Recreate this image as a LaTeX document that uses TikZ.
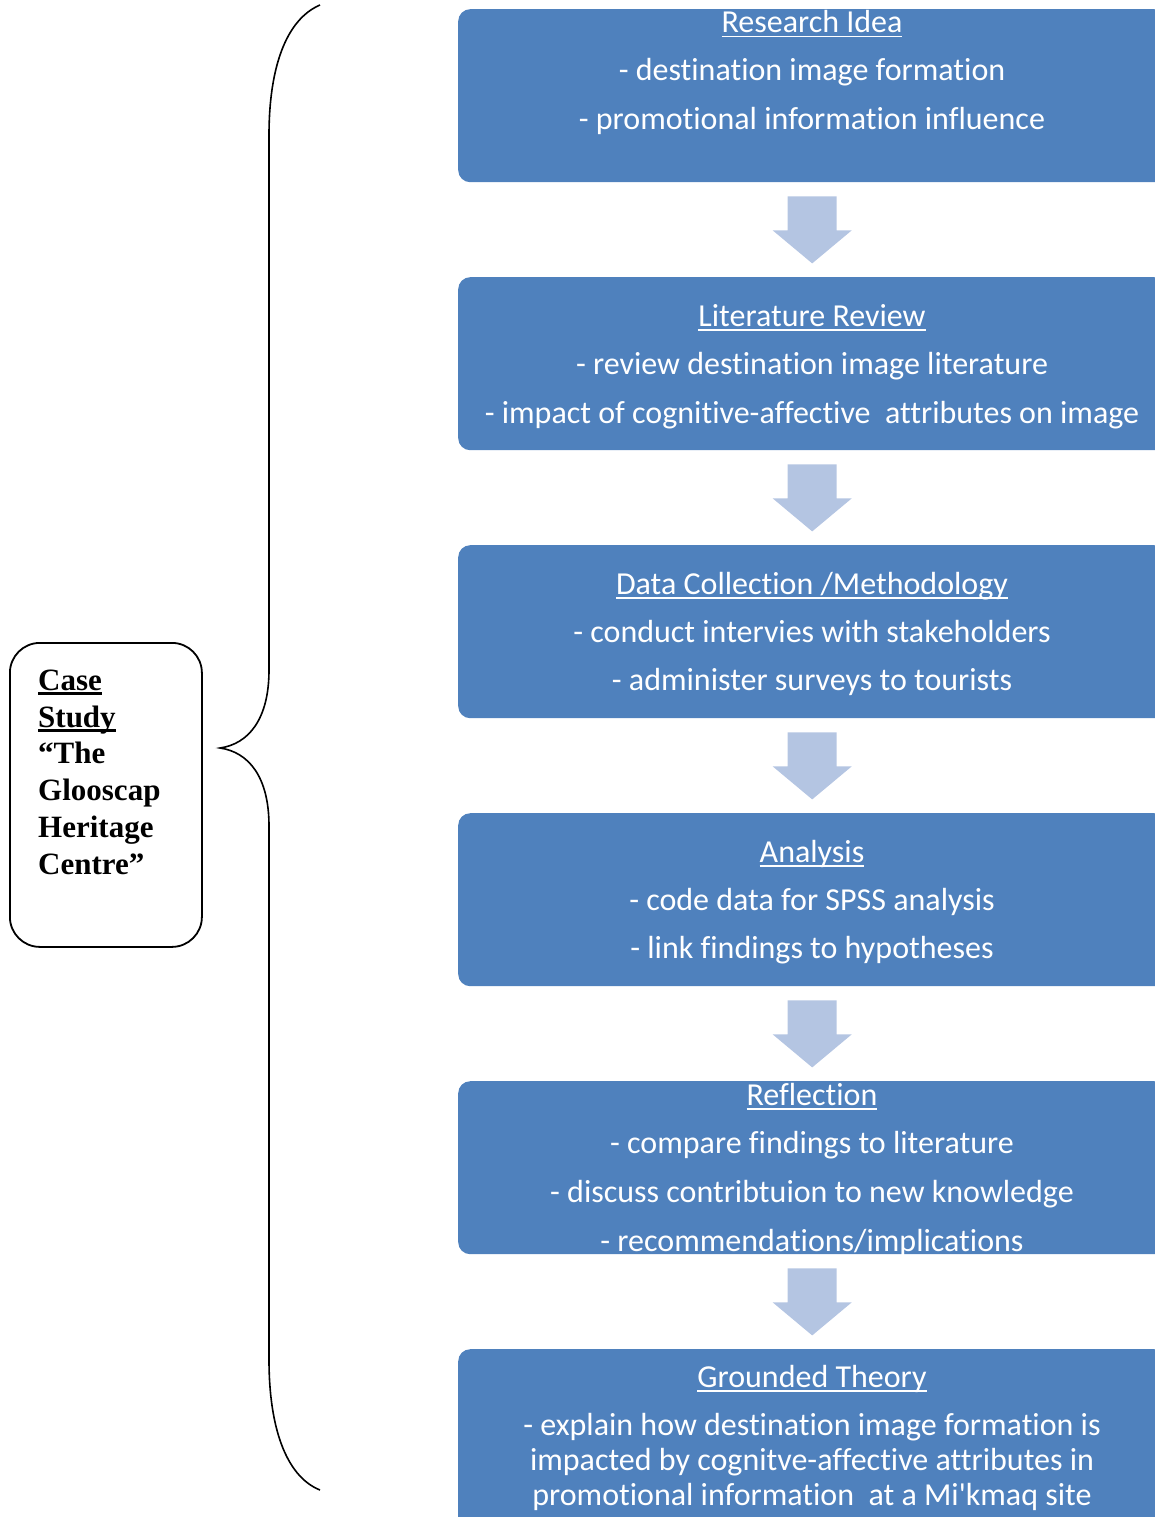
\documentclass[tikz,border=0pt]{standalone}
\usepackage{fontspec}
\setmainfont[Ligatures={TeX,NoCommon}]{Carlito}
\newfontfamily\timesf[Ligatures=TeX]{Liberation Serif}
\definecolor{boxblue}{RGB}{79,129,189}
\definecolor{arrowblue}{RGB}{180,197,226}
\newlength\ulw
\newcommand\myul[3]{\settowidth\ulw{#3}\rlap{\rule[-#1]{\ulw}{#2}}#3}
\begin{document}
\begin{tikzpicture}[x=1pt,y=-1pt,
  box/.style={fill=boxblue, rounded corners=12pt, minimum width=708pt, minimum height=173pt, inner sep=0pt, draw=none, anchor=north west},
  txt/.style={anchor=base, text=white, font=\fontsize{32}{38}\selectfont, inner sep=0pt},
  cstxt/.style={anchor=base west, text=black, font=\timesf\bfseries\fontsize{31}{37}\selectfont, inner sep=0pt},
  blockarrow/.style={fill=arrowblue, draw=none}]
\useasboundingbox (0,0) rectangle (1155,1517);
\clip (0,0) rectangle (1155,1517);

% boxes
\node[box] (b1) at (458,9) {};
\node[box] (b2) at (458,277) {};
\node[box] (b3) at (458,545) {};
\node[box] (b4) at (458,813) {};
\node[box] (b5) at (458,1081) {};
\node[box, minimum height=190pt] (b6) at (458,1349) {};

% block arrows between boxes
\foreach \s in {b1,b2,b3,b4,b5}{
  \begin{scope}[shift={(\s.south)}]
    \fill[blockarrow] (-24.5,14) -- (24.5,14) -- (24.5,48) -- (39.5,48) -- (0,81) -- (-39.5,48) -- (-24.5,48) -- cycle;
  \end{scope}
}

% texts
\node[txt] (t11) at (812,33) {\myul{4.5pt}{1.8pt}{Research Idea}};
\node[txt] (t12) at (812,81) {- destination image formation};
\node[txt] (t13) at (812,130) {- promotional information influence};

\node[txt] (t21) at (812,326) {\myul{4.5pt}{1.8pt}{Literature Review}};
\node[txt] (t22) at (812,374) {- review destination image literature};
\node[txt] (t23) at (812,423) {- impact of cognitive-affective~ attributes on image};

\node[txt] (t31) at (812,594) {\myul{4.5pt}{1.8pt}{Data Collection /Methodology}};
\node[txt] (t32) at (812,642) {- conduct intervies with stakeholders};
\node[txt] (t33) at (812,690) {- administer surveys to tourists};

\node[txt] (t41) at (812,862) {\myul{4.5pt}{1.8pt}{Analysis}};
\node[txt] (t42) at (812,910) {- code data for SPSS analysis};
\node[txt] (t43) at (812,958) {- link findings to hypotheses};

\node[txt] (t51) at (812,1105) {\myul{4.5pt}{1.8pt}{Reflection}};
\node[txt] (t52) at (812,1153) {- compare findings to literature};
\node[txt] (t53) at (812,1202) {- discuss contribtuion to new knowledge};
\node[txt] (t54) at (812,1251) {- recommendations/implications};

\node[txt] (t61) at (812,1387) {\myul{4.5pt}{1.8pt}{Grounded Theory}};
\node[txt] (t62) at (812,1435) {- explain how destination image formation is};
\node[txt] (t63) at (812,1470) {impacted by cognitve-affective attributes in};
\node[txt] (t64) at (812,1505) {promotional information~ at a Mi\textquotesingle kmaq site};

% case study box
\node[draw, line width=1.8pt, rounded corners=30pt, minimum width=192pt, minimum height=304pt, inner sep=0pt, anchor=north west] (cs) at (9,642) {};
\node[cstxt] (c1) at (38,690) {\myul{5pt}{2.6pt}{Case}};
\node[cstxt] (c2) at (38,727) {\myul{5pt}{2.6pt}{Study}};
\node[cstxt] (c3) at (38,763) {“The};
\node[cstxt] (c4) at (38,800) {Glooscap};
\node[cstxt] (c5) at (38,837) {Heritage};
\node[cstxt] (c6) at (38,874) {Centre”};

% brace
\coordinate (tip) at (220,748);
\draw[line width=1.6pt] (320,5) .. controls (285,20) and (269,70) .. (269,135) -- (269,670)
  .. controls (269,720) and (248,744) .. (tip)
  .. controls (248,752) and (269,776) .. (269,826) -- (269,1360)
  .. controls (269,1425) and (285,1476) .. (320,1490);
\end{tikzpicture}
\end{document}
